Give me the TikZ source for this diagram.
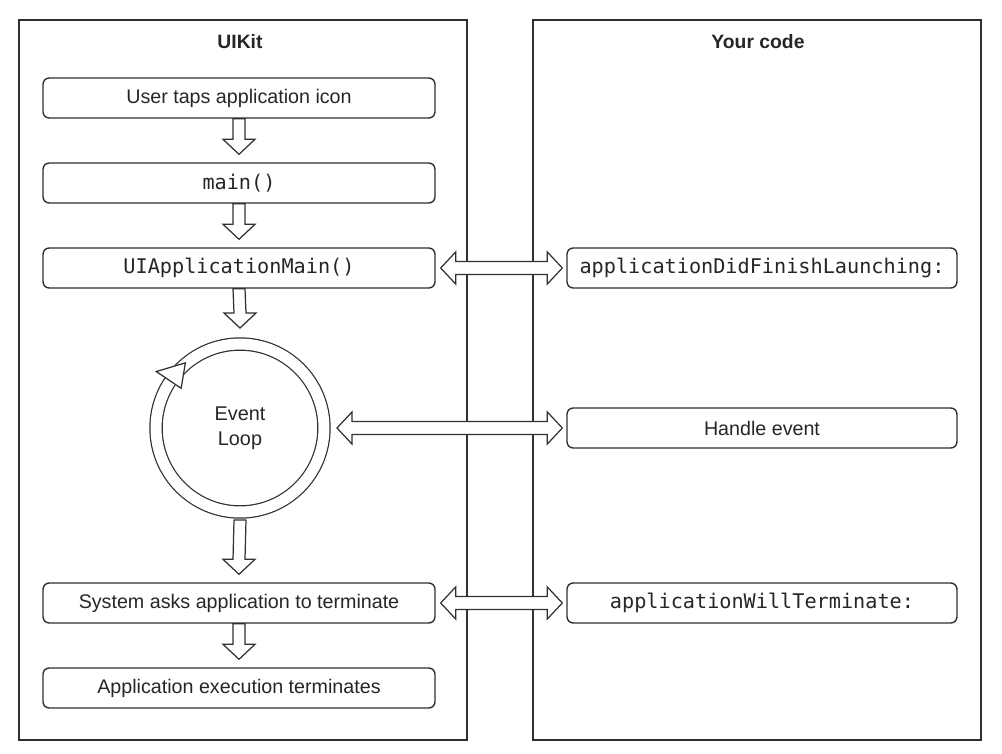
\documentclass[tikz,border=0pt]{standalone}
\usepackage{fontspec}
\setmainfont{Liberation Sans}
\setmonofont{DejaVu Sans Mono}
\usetikzlibrary{
    positioning,
    calc
}
\definecolor{CinzaEscuro}{HTML}{262626}
\definecolor{CinzaBorda}{HTML}{303030}

\tikzset{
    painel/.style={draw=CinzaBorda, line width=1pt},
    titulo/.style={font=\fontsize{11}{13}\selectfont\bfseries, text=CinzaEscuro},
    passo/.style={
        draw=CinzaBorda,
        line width=0.8pt,
        rounded corners=3.5pt,
        fill=white,
        minimum height=0.8cm,
        inner sep=0pt,
        text=CinzaEscuro,
        font=\fontsize{11.2}{13}\selectfont
    },
    codigo/.style={font=\fontsize{11.5}{13}\selectfont\ttfamily},
    seta/.style={draw=CinzaBorda, line width=0.7pt, fill=white, line join=miter}
}

% seta grossa para baixo: da ancora #1 ate 8 unidades antes de #2
\newcommand{\setabaixo}[2]{%
    \draw[seta] ($(#1)+(-6,0)$) -- ($(#2)+(-6,-23)$) -- ($(#2)+(-16,-23)$)
        -- ($(#2)+(0,-8)$) -- ($(#2)+(16,-23)$) -- ($(#2)+(6,-23)$)
        -- ($(#1)+(6,0)$) -- cycle;
}
% seta dupla entre as duas colunas
\newcommand{\setadupla}[2]{%
    \draw[seta] ($(#1.east)+(5,0)$) -- ($(#1.east)+(20,-16)$) -- ($(#1.east)+(20,-6.5)$)
        -- ($(#2.west)+(-19,-6.5)$) -- ($(#2.west)+(-19,-16)$) -- ($(#2.west)+(-4,0)$)
        -- ($(#2.west)+(-19,16)$) -- ($(#2.west)+(-19,6.5)$)
        -- ($(#1.east)+(20,6.5)$) -- ($(#1.east)+(20,16)$) -- cycle;
}

\begin{document}
\begin{tikzpicture}[x=0.02cm, y=-0.02cm]
    \useasboundingbox[fill=white] (0,0) rectangle (1002,754);

    % colunas
    \draw[painel] (19,20) rectangle (467,740);
    \draw[painel] (533,20) rectangle (981,740);
    \node[titulo] (uikit) at (240,42) {UIKit};
    \node[titulo] (seucodigo) at (758,42) {Your code};

    % UIKit
    \node[passo, minimum width=7.84cm] (toque) at (239,98) {User taps application icon};
    \node[passo, minimum width=7.84cm, codigo] (principal) at (239,183) {main()};
    \node[passo, minimum width=7.84cm, codigo] (appmain) at (239,268) {UIApplicationMain()};
    \node[
        circle,
        draw=CinzaBorda,
        line width=0.7pt,
        double=white,
        double distance=0.22cm,
        minimum size=3.36cm,
        outer sep=0.16cm,
        align=center,
        text=CinzaEscuro,
        font=\fontsize{11.3}{14}\selectfont
    ] (laco) at (240,428) {Event\\Loop};
    \node[passo, minimum width=7.84cm] (sistema) at (239,603) {System asks application to terminate};
    \node[passo, minimum width=7.84cm] (fim) at (239,688) {Application execution terminates};

    % Your code
    \node[passo, minimum width=7.8cm, codigo] (didfinish) at (762,268) {applicationDidFinishLaunching:};
    \node[passo, minimum width=7.8cm] (evento) at (762,428) {Handle event};
    \node[passo, minimum width=7.8cm, codigo] (willterm) at (762,603) {applicationWillTerminate:};

    % ponta da seta no anel
    \draw[seta] ($(laco.center)+(-146:71)$) -- ($(laco.center)+(-130:85)$)
        -- ($(laco.center)+(-146:101)$) -- cycle;

    % setas
    \setabaixo{toque.south}{principal.north}
    \setabaixo{principal.south}{appmain.north}
    \setabaixo{appmain.south}{laco.north}
    \setabaixo{laco.south}{sistema.north}
    \setabaixo{sistema.south}{fim.north}
    \setadupla{appmain}{didfinish}
    \setadupla{laco}{evento}
    \setadupla{sistema}{willterm}
\end{tikzpicture}
\end{document}
